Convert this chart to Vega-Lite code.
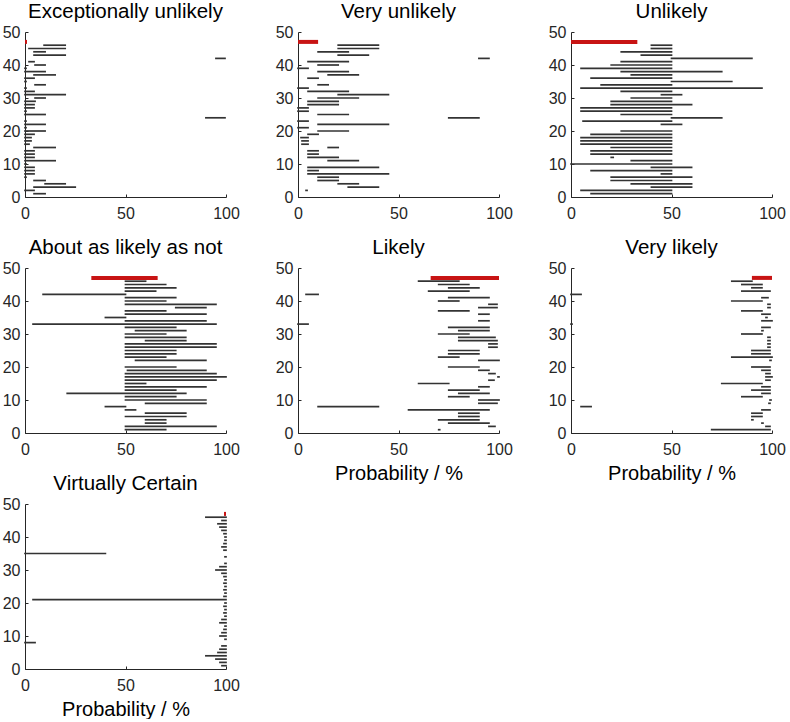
{
"$schema": "https://vega.github.io/schema/vega-lite/v6.json",
"background": "white",
"padding": {"left": 2, "top": 1, "right": 0, "bottom": 0},
"datasets": {
"p1": [
{"y":47,"lo":0,"hi":1,"src":"ipcc"},
{"y":46,"lo":9.5,"hi":20,"src":"resp"},{"y":45,"lo":2,"hi":20,"src":"resp"},{"y":44,"lo":4.5,"hi":10,"src":"resp"},{"y":43,"lo":4.5,"hi":20,"src":"resp"},{"y":42,"lo":95,"hi":99.5,"src":"resp"},{"y":41,"lo":2,"hi":4.5,"src":"resp"},{"y":40,"lo":5,"hi":10,"src":"resp"},{"y":39,"lo":0,"hi":0.5,"src":"resp"},{"y":38,"lo":0,"hi":10,"src":"resp"},{"y":37,"lo":4.5,"hi":15,"src":"resp"},{"y":36,"lo":0,"hi":4.5,"src":"resp"},{"y":35,"lo":0,"hi":0.5,"src":"resp"},{"y":34,"lo":5,"hi":10,"src":"resp"},{"y":33,"lo":0,"hi":0.5,"src":"resp"},{"y":32,"lo":0,"hi":4.5,"src":"resp"},{"y":31,"lo":0,"hi":20,"src":"resp"},{"y":30,"lo":5,"hi":10,"src":"resp"},{"y":29,"lo":0,"hi":5,"src":"resp"},{"y":28,"lo":0,"hi":4.5,"src":"resp"},{"y":27,"lo":0,"hi":4.5,"src":"resp"},{"y":26,"lo":0,"hi":0.5,"src":"resp"},{"y":25,"lo":0,"hi":10,"src":"resp"},{"y":24,"lo":90,"hi":99.5,"src":"resp"},{"y":23,"lo":0,"hi":0.5,"src":"resp"},{"y":22,"lo":0,"hi":10,"src":"resp"},{"y":21,"lo":0,"hi":0.5,"src":"resp"},{"y":20,"lo":0,"hi":10,"src":"resp"},{"y":19,"lo":0,"hi":4.5,"src":"resp"},{"y":18,"lo":0,"hi":3,"src":"resp"},{"y":17,"lo":0,"hi":3,"src":"resp"},{"y":16,"lo":0,"hi":2,"src":"resp"},{"y":15,"lo":4.5,"hi":15,"src":"resp"},{"y":14,"lo":0,"hi":4.5,"src":"resp"},{"y":13,"lo":0,"hi":4.5,"src":"resp"},{"y":12,"lo":0,"hi":4.5,"src":"resp"},{"y":11,"lo":0,"hi":15,"src":"resp"},{"y":10,"lo":0,"hi":0.5,"src":"resp"},{"y":9,"lo":0,"hi":4.5,"src":"resp"},{"y":8,"lo":0,"hi":4.5,"src":"resp"},{"y":7,"lo":0,"hi":4.5,"src":"resp"},{"y":6,"lo":0,"hi":0.5,"src":"resp"},{"y":5,"lo":4.5,"hi":10,"src":"resp"},{"y":4,"lo":10,"hi":20,"src":"resp"},{"y":3,"lo":4.5,"hi":25,"src":"resp"},{"y":2,"lo":0,"hi":4.5,"src":"resp"},{"y":1,"lo":4.5,"hi":10,"src":"resp"}
],
"p2": [
{"y":47,"lo":0,"hi":10,"src":"ipcc"},
{"y":46,"lo":20,"hi":40,"src":"resp"},{"y":45,"lo":20,"hi":40,"src":"resp"},{"y":44,"lo":10,"hi":25,"src":"resp"},{"y":43,"lo":20,"hi":35,"src":"resp"},{"y":42,"lo":90,"hi":95,"src":"resp"},{"y":41,"lo":5,"hi":25,"src":"resp"},{"y":40,"lo":10,"hi":20,"src":"resp"},{"y":39,"lo":0,"hi":5,"src":"resp"},{"y":38,"lo":10,"hi":25,"src":"resp"},{"y":37,"lo":15,"hi":30,"src":"resp"},{"y":36,"lo":5,"hi":10,"src":"resp"},{"y":34,"lo":10,"hi":15,"src":"resp"},{"y":33,"lo":0,"hi":5,"src":"resp"},{"y":32,"lo":5,"hi":25,"src":"resp"},{"y":31,"lo":20,"hi":45,"src":"resp"},{"y":30,"lo":10,"hi":30,"src":"resp"},{"y":29,"lo":5,"hi":20,"src":"resp"},{"y":28,"lo":5,"hi":20,"src":"resp"},{"y":27,"lo":0,"hi":5,"src":"resp"},{"y":26,"lo":0,"hi":5,"src":"resp"},{"y":25,"lo":10,"hi":25,"src":"resp"},{"y":24,"lo":75,"hi":90,"src":"resp"},{"y":23,"lo":0,"hi":5,"src":"resp"},{"y":22,"lo":10,"hi":45,"src":"resp"},{"y":21,"lo":0,"hi":5,"src":"resp"},{"y":20,"lo":10,"hi":25,"src":"resp"},{"y":19,"lo":5,"hi":10,"src":"resp"},{"y":18,"lo":1.5,"hi":5,"src":"resp"},{"y":17,"lo":2,"hi":5,"src":"resp"},{"y":16,"lo":2,"hi":5,"src":"resp"},{"y":15,"lo":15,"hi":20,"src":"resp"},{"y":14,"lo":5,"hi":10,"src":"resp"},{"y":13,"lo":5,"hi":10,"src":"resp"},{"y":12,"lo":5,"hi":20,"src":"resp"},{"y":11,"lo":15,"hi":30,"src":"resp"},{"y":9,"lo":5,"hi":40,"src":"resp"},{"y":8,"lo":5,"hi":10,"src":"resp"},{"y":7,"lo":5,"hi":45,"src":"resp"},{"y":6,"lo":10,"hi":20,"src":"resp"},{"y":5,"lo":10,"hi":20,"src":"resp"},{"y":4,"lo":20,"hi":30,"src":"resp"},{"y":3,"lo":25,"hi":40,"src":"resp"},{"y":2,"lo":4,"hi":4.5,"src":"resp"}
],
"p3": [
{"y":47,"lo":0,"hi":33,"src":"ipcc"},
{"y":46,"lo":40,"hi":50,"src":"resp"},{"y":45,"lo":40,"hi":50,"src":"resp"},{"y":44,"lo":25,"hi":50,"src":"resp"},{"y":43,"lo":35,"hi":50,"src":"resp"},{"y":42,"lo":50,"hi":90,"src":"resp"},{"y":41,"lo":25,"hi":50,"src":"resp"},{"y":40,"lo":20,"hi":50,"src":"resp"},{"y":39,"lo":5,"hi":50,"src":"resp"},{"y":38,"lo":25,"hi":75,"src":"resp"},{"y":37,"lo":30,"hi":50,"src":"resp"},{"y":36,"lo":10,"hi":50,"src":"resp"},{"y":35,"lo":50,"hi":80,"src":"resp"},{"y":34,"lo":15,"hi":50,"src":"resp"},{"y":33,"lo":5,"hi":95,"src":"resp"},{"y":32,"lo":25,"hi":50,"src":"resp"},{"y":31,"lo":45,"hi":55,"src":"resp"},{"y":30,"lo":30,"hi":50,"src":"resp"},{"y":29,"lo":20,"hi":50,"src":"resp"},{"y":28,"lo":20,"hi":60,"src":"resp"},{"y":27,"lo":5,"hi":50,"src":"resp"},{"y":26,"lo":5,"hi":50,"src":"resp"},{"y":25,"lo":25,"hi":50,"src":"resp"},{"y":24,"lo":50,"hi":75,"src":"resp"},{"y":23,"lo":6,"hi":50,"src":"resp"},{"y":22,"lo":45,"hi":55,"src":"resp"},{"y":20,"lo":25,"hi":50,"src":"resp"},{"y":19,"lo":10,"hi":50,"src":"resp"},{"y":18,"lo":5,"hi":50,"src":"resp"},{"y":17,"lo":5,"hi":50,"src":"resp"},{"y":16,"lo":5,"hi":50,"src":"resp"},{"y":15,"lo":20,"hi":50,"src":"resp"},{"y":14,"lo":10,"hi":50,"src":"resp"},{"y":13,"lo":10,"hi":50,"src":"resp"},{"y":12,"lo":20,"hi":21,"src":"resp"},{"y":11,"lo":30,"hi":50,"src":"resp"},{"y":10,"lo":0,"hi":50,"src":"resp"},{"y":9,"lo":40,"hi":60,"src":"resp"},{"y":8,"lo":10,"hi":50,"src":"resp"},{"y":7,"lo":45,"hi":50,"src":"resp"},{"y":6,"lo":20,"hi":60,"src":"resp"},{"y":5,"lo":20,"hi":50,"src":"resp"},{"y":4,"lo":30,"hi":60,"src":"resp"},{"y":3,"lo":40,"hi":60,"src":"resp"},{"y":2,"lo":5,"hi":50,"src":"resp"},{"y":1,"lo":10,"hi":50,"src":"resp"}
],
"p4": [
{"y":47,"lo":33,"hi":66,"src":"ipcc"},
{"y":46,"lo":50,"hi":60,"src":"resp"},{"y":45,"lo":50,"hi":70,"src":"resp"},{"y":44,"lo":50,"hi":75,"src":"resp"},{"y":43,"lo":50,"hi":65,"src":"resp"},{"y":42,"lo":9,"hi":50,"src":"resp"},{"y":41,"lo":50,"hi":75,"src":"resp"},{"y":40,"lo":50,"hi":70,"src":"resp"},{"y":39,"lo":50,"hi":95,"src":"resp"},{"y":38,"lo":75,"hi":90,"src":"resp"},{"y":37,"lo":50,"hi":70,"src":"resp"},{"y":36,"lo":50,"hi":90,"src":"resp"},{"y":35,"lo":40,"hi":50,"src":"resp"},{"y":34,"lo":50,"hi":90,"src":"resp"},{"y":33,"lo":4,"hi":95,"src":"resp"},{"y":32,"lo":50,"hi":75,"src":"resp"},{"y":31,"lo":55,"hi":80,"src":"resp"},{"y":30,"lo":50,"hi":70,"src":"resp"},{"y":29,"lo":50,"hi":80,"src":"resp"},{"y":28,"lo":60,"hi":80,"src":"resp"},{"y":27,"lo":50,"hi":95,"src":"resp"},{"y":26,"lo":50,"hi":95,"src":"resp"},{"y":25,"lo":50,"hi":75,"src":"resp"},{"y":24,"lo":50,"hi":75,"src":"resp"},{"y":23,"lo":50,"hi":70,"src":"resp"},{"y":22,"lo":55,"hi":90,"src":"resp"},{"y":20,"lo":50,"hi":75,"src":"resp"},{"y":19,"lo":51,"hi":90,"src":"resp"},{"y":18,"lo":50,"hi":95,"src":"resp"},{"y":17,"lo":50,"hi":100,"src":"resp"},{"y":16,"lo":50,"hi":95,"src":"resp"},{"y":15,"lo":50,"hi":60,"src":"resp"},{"y":14,"lo":50,"hi":90,"src":"resp"},{"y":13,"lo":50,"hi":75,"src":"resp"},{"y":12,"lo":21,"hi":80,"src":"resp"},{"y":11,"lo":50,"hi":75,"src":"resp"},{"y":10,"lo":50,"hi":90,"src":"resp"},{"y":9,"lo":60,"hi":90,"src":"resp"},{"y":8,"lo":40,"hi":50,"src":"resp"},{"y":7,"lo":50,"hi":55,"src":"resp"},{"y":6,"lo":60,"hi":80,"src":"resp"},{"y":5,"lo":50,"hi":80,"src":"resp"},{"y":4,"lo":60,"hi":70,"src":"resp"},{"y":3,"lo":60,"hi":70,"src":"resp"},{"y":2,"lo":50,"hi":95,"src":"resp"},{"y":1,"lo":50,"hi":70,"src":"resp"}
],
"p5": [
{"y":47,"lo":66,"hi":100,"src":"ipcc"},
{"y":46,"lo":60,"hi":80,"src":"resp"},{"y":45,"lo":70,"hi":85,"src":"resp"},{"y":44,"lo":75,"hi":90,"src":"resp"},{"y":43,"lo":65,"hi":85,"src":"resp"},{"y":42,"lo":4,"hi":10,"src":"resp"},{"y":41,"lo":75,"hi":95,"src":"resp"},{"y":40,"lo":70,"hi":80,"src":"resp"},{"y":39,"lo":95,"hi":99,"src":"resp"},{"y":38,"lo":90,"hi":99,"src":"resp"},{"y":37,"lo":70,"hi":85,"src":"resp"},{"y":36,"lo":90,"hi":95,"src":"resp"},{"y":34,"lo":90,"hi":95,"src":"resp"},{"y":33,"lo":0,"hi":5,"src":"resp"},{"y":32,"lo":75,"hi":95,"src":"resp"},{"y":31,"lo":80,"hi":95,"src":"resp"},{"y":30,"lo":70,"hi":85,"src":"resp"},{"y":29,"lo":80,"hi":98,"src":"resp"},{"y":28,"lo":80,"hi":99,"src":"resp"},{"y":27,"lo":95,"hi":99,"src":"resp"},{"y":26,"lo":95,"hi":99,"src":"resp"},{"y":25,"lo":75,"hi":90,"src":"resp"},{"y":24,"lo":75,"hi":90,"src":"resp"},{"y":23,"lo":70,"hi":80,"src":"resp"},{"y":22,"lo":90,"hi":100,"src":"resp"},{"y":20,"lo":75,"hi":90,"src":"resp"},{"y":19,"lo":90,"hi":95,"src":"resp"},{"y":18,"lo":95,"hi":98,"src":"resp"},{"y":17,"lo":99.5,"hi":100,"src":"resp"},{"y":16,"lo":95,"hi":97.5,"src":"resp"},{"y":15,"lo":60,"hi":75,"src":"resp"},{"y":14,"lo":90,"hi":95,"src":"resp"},{"y":13,"lo":75,"hi":90,"src":"resp"},{"y":12,"lo":80,"hi":95,"src":"resp"},{"y":11,"lo":75,"hi":85,"src":"resp"},{"y":10,"lo":90,"hi":100,"src":"resp"},{"y":9,"lo":90,"hi":99,"src":"resp"},{"y":8,"lo":10,"hi":40,"src":"resp"},{"y":7,"lo":55,"hi":95,"src":"resp"},{"y":6,"lo":80,"hi":90,"src":"resp"},{"y":5,"lo":80,"hi":90,"src":"resp"},{"y":4,"lo":70,"hi":90,"src":"resp"},{"y":3,"lo":75,"hi":95,"src":"resp"},{"y":2,"lo":95,"hi":98,"src":"resp"},{"y":1,"lo":70,"hi":70.5,"src":"resp"}
],
"p6": [
{"y":47,"lo":90,"hi":100,"src":"ipcc"},
{"y":46,"lo":80,"hi":90,"src":"resp"},{"y":45,"lo":85,"hi":95,"src":"resp"},{"y":44,"lo":90,"hi":95,"src":"resp"},{"y":43,"lo":85,"hi":99,"src":"resp"},{"y":42,"lo":0,"hi":5,"src":"resp"},{"y":41,"lo":95,"hi":98,"src":"resp"},{"y":40,"lo":80,"hi":95,"src":"resp"},{"y":39,"lo":98,"hi":99,"src":"resp"},{"y":38,"lo":98,"hi":99,"src":"resp"},{"y":37,"lo":85,"hi":95,"src":"resp"},{"y":36,"lo":95,"hi":99,"src":"resp"},{"y":35,"lo":97,"hi":97.5,"src":"resp"},{"y":34,"lo":95,"hi":100,"src":"resp"},{"y":33,"lo":0,"hi":0.5,"src":"resp"},{"y":32,"lo":95,"hi":99,"src":"resp"},{"y":31,"lo":95,"hi":95.5,"src":"resp"},{"y":30,"lo":85,"hi":95,"src":"resp"},{"y":29,"lo":98,"hi":99,"src":"resp"},{"y":28,"lo":98,"hi":99,"src":"resp"},{"y":27,"lo":98,"hi":99,"src":"resp"},{"y":26,"lo":98,"hi":99,"src":"resp"},{"y":25,"lo":90,"hi":99,"src":"resp"},{"y":24,"lo":90,"hi":99,"src":"resp"},{"y":23,"lo":80,"hi":100,"src":"resp"},{"y":22,"lo":99,"hi":99.5,"src":"resp"},{"y":20,"lo":90,"hi":99,"src":"resp"},{"y":19,"lo":95,"hi":99,"src":"resp"},{"y":18,"lo":97,"hi":99,"src":"resp"},{"y":17,"lo":97,"hi":100,"src":"resp"},{"y":16,"lo":97,"hi":99,"src":"resp"},{"y":15,"lo":75,"hi":95,"src":"resp"},{"y":14,"lo":95,"hi":99,"src":"resp"},{"y":13,"lo":90,"hi":99,"src":"resp"},{"y":12,"lo":95,"hi":99,"src":"resp"},{"y":11,"lo":85,"hi":95,"src":"resp"},{"y":10,"lo":99,"hi":99.5,"src":"resp"},{"y":9,"lo":98.5,"hi":99,"src":"resp"},{"y":8,"lo":5,"hi":10,"src":"resp"},{"y":7,"lo":95,"hi":99,"src":"resp"},{"y":6,"lo":90,"hi":95,"src":"resp"},{"y":5,"lo":90,"hi":95,"src":"resp"},{"y":4,"lo":90,"hi":90.5,"src":"resp"},{"y":3,"lo":95,"hi":95.5,"src":"resp"},{"y":2,"lo":97,"hi":99,"src":"resp"},{"y":1,"lo":70,"hi":99,"src":"resp"}
],
"p7": [
{"y":47,"lo":99,"hi":100,"src":"ipcc"},
{"y":46,"lo":90,"hi":100,"src":"resp"},{"y":45,"lo":98,"hi":100,"src":"resp"},{"y":44,"lo":96,"hi":100,"src":"resp"},{"y":43,"lo":97,"hi":100,"src":"resp"},{"y":42,"lo":98,"hi":100,"src":"resp"},{"y":41,"lo":99,"hi":100,"src":"resp"},{"y":40,"lo":99.5,"hi":100,"src":"resp"},{"y":39,"lo":99.5,"hi":100,"src":"resp"},{"y":38,"lo":99,"hi":100,"src":"resp"},{"y":37,"lo":98,"hi":100,"src":"resp"},{"y":36,"lo":99,"hi":100,"src":"resp"},{"y":35,"lo":0,"hi":40,"src":"resp"},{"y":34,"lo":99.5,"hi":100,"src":"resp"},{"y":32,"lo":99.5,"hi":100,"src":"resp"},{"y":31,"lo":97,"hi":100,"src":"resp"},{"y":30,"lo":95,"hi":100,"src":"resp"},{"y":29,"lo":98,"hi":100,"src":"resp"},{"y":28,"lo":99,"hi":100,"src":"resp"},{"y":27,"lo":99.5,"hi":100,"src":"resp"},{"y":26,"lo":99,"hi":100,"src":"resp"},{"y":25,"lo":99.5,"hi":100,"src":"resp"},{"y":24,"lo":99,"hi":100,"src":"resp"},{"y":23,"lo":99.5,"hi":100,"src":"resp"},{"y":22,"lo":99,"hi":100,"src":"resp"},{"y":21,"lo":4,"hi":100,"src":"resp"},{"y":20,"lo":99.5,"hi":100,"src":"resp"},{"y":19,"lo":99,"hi":100,"src":"resp"},{"y":18,"lo":99.5,"hi":100,"src":"resp"},{"y":17,"lo":99,"hi":100,"src":"resp"},{"y":16,"lo":99.5,"hi":100,"src":"resp"},{"y":15,"lo":98,"hi":100,"src":"resp"},{"y":14,"lo":97,"hi":100,"src":"resp"},{"y":13,"lo":99.5,"hi":100,"src":"resp"},{"y":12,"lo":99,"hi":100,"src":"resp"},{"y":11,"lo":98,"hi":100,"src":"resp"},{"y":10,"lo":97,"hi":100,"src":"resp"},{"y":9,"lo":99.5,"hi":100,"src":"resp"},{"y":8,"lo":0,"hi":5,"src":"resp"},{"y":7,"lo":98,"hi":100,"src":"resp"},{"y":6,"lo":97,"hi":100,"src":"resp"},{"y":5,"lo":96,"hi":100,"src":"resp"},{"y":4,"lo":90,"hi":100,"src":"resp"},{"y":3,"lo":95,"hi":100,"src":"resp"},{"y":2,"lo":97,"hi":100,"src":"resp"},{"y":1,"lo":98,"hi":100,"src":"resp"}
]
},
"columns": 3,
"spacing": {"row": 71, "column": 72},
"bounds": "flush",
"concat": [
{"data": {"name": "p1"}, "width": 201, "height": 165, "title": "Exceptionally unlikely",
 "encoding": {"y": {"field": "y", "type": "quantitative", "scale": {"domain": [0, 50]}, "axis": {"values": [0,10,20,30,40,50], "title": null}},
              "x": {"field": "lo", "type": "quantitative", "scale": {"domain": [0, 100]}, "axis": {"values": [0,50,100], "title": null}},
              "x2": {"field": "hi"}},
 "layer": [
  {"transform": [{"filter": "datum.src == 'resp'"}], "mark": {"type": "rule", "color": "#333333", "strokeWidth": 1.7, "strokeCap": "square"}},
  {"transform": [{"filter": "datum.src == 'ipcc'"}], "mark": {"type": "rule", "color": "#c81414", "strokeWidth": 4}}
 ]},
{"data": {"name": "p2"}, "width": 201, "height": 165, "title": "Very unlikely",
 "encoding": {"y": {"field": "y", "type": "quantitative", "scale": {"domain": [0, 50]}, "axis": {"values": [0,10,20,30,40,50], "title": null}},
              "x": {"field": "lo", "type": "quantitative", "scale": {"domain": [0, 100]}, "axis": {"values": [0,50,100], "title": null}},
              "x2": {"field": "hi"}},
 "layer": [
  {"transform": [{"filter": "datum.src == 'resp'"}], "mark": {"type": "rule", "color": "#333333", "strokeWidth": 1.7, "strokeCap": "square"}},
  {"transform": [{"filter": "datum.src == 'ipcc'"}], "mark": {"type": "rule", "color": "#c81414", "strokeWidth": 4}}
 ]},
{"data": {"name": "p3"}, "width": 201, "height": 165, "title": "Unlikely",
 "encoding": {"y": {"field": "y", "type": "quantitative", "scale": {"domain": [0, 50]}, "axis": {"values": [0,10,20,30,40,50], "title": null}},
              "x": {"field": "lo", "type": "quantitative", "scale": {"domain": [0, 100]}, "axis": {"values": [0,50,100], "title": null}},
              "x2": {"field": "hi"}},
 "layer": [
  {"transform": [{"filter": "datum.src == 'resp'"}], "mark": {"type": "rule", "color": "#333333", "strokeWidth": 1.7, "strokeCap": "square"}},
  {"transform": [{"filter": "datum.src == 'ipcc'"}], "mark": {"type": "rule", "color": "#c81414", "strokeWidth": 4}}
 ]},
{"data": {"name": "p4"}, "width": 201, "height": 165, "title": "About as likely as not",
 "encoding": {"y": {"field": "y", "type": "quantitative", "scale": {"domain": [0, 50]}, "axis": {"values": [0,10,20,30,40,50], "title": null}},
              "x": {"field": "lo", "type": "quantitative", "scale": {"domain": [0, 100]}, "axis": {"values": [0,50,100], "title": null}},
              "x2": {"field": "hi"}},
 "layer": [
  {"transform": [{"filter": "datum.src == 'resp'"}], "mark": {"type": "rule", "color": "#333333", "strokeWidth": 1.7, "strokeCap": "square"}},
  {"transform": [{"filter": "datum.src == 'ipcc'"}], "mark": {"type": "rule", "color": "#c81414", "strokeWidth": 4}}
 ]},
{"data": {"name": "p5"}, "width": 201, "height": 165, "title": "Likely",
 "encoding": {"y": {"field": "y", "type": "quantitative", "scale": {"domain": [0, 50]}, "axis": {"values": [0,10,20,30,40,50], "title": null}},
              "x": {"field": "lo", "type": "quantitative", "scale": {"domain": [0, 100]}, "axis": {"values": [0,50,100], "title": "Probability / %"}},
              "x2": {"field": "hi"}},
 "layer": [
  {"transform": [{"filter": "datum.src == 'resp'"}], "mark": {"type": "rule", "color": "#333333", "strokeWidth": 1.7, "strokeCap": "square"}},
  {"transform": [{"filter": "datum.src == 'ipcc'"}], "mark": {"type": "rule", "color": "#c81414", "strokeWidth": 4}}
 ]},
{"data": {"name": "p6"}, "width": 201, "height": 165, "title": "Very likely",
 "encoding": {"y": {"field": "y", "type": "quantitative", "scale": {"domain": [0, 50]}, "axis": {"values": [0,10,20,30,40,50], "title": null}},
              "x": {"field": "lo", "type": "quantitative", "scale": {"domain": [0, 100]}, "axis": {"values": [0,50,100], "title": "Probability / %"}},
              "x2": {"field": "hi"}},
 "layer": [
  {"transform": [{"filter": "datum.src == 'resp'"}], "mark": {"type": "rule", "color": "#333333", "strokeWidth": 1.7, "strokeCap": "square"}},
  {"transform": [{"filter": "datum.src == 'ipcc'"}], "mark": {"type": "rule", "color": "#c81414", "strokeWidth": 4}}
 ]},
{"data": {"name": "p7"}, "width": 201, "height": 165, "title": "Virtually Certain",
 "encoding": {"y": {"field": "y", "type": "quantitative", "scale": {"domain": [0, 50]}, "axis": {"values": [0,10,20,30,40,50], "title": null}},
              "x": {"field": "lo", "type": "quantitative", "scale": {"domain": [0, 100]}, "axis": {"values": [0,50,100], "title": "Probability / %"}},
              "x2": {"field": "hi"}},
 "layer": [
  {"transform": [{"filter": "datum.src == 'resp'"}], "mark": {"type": "rule", "color": "#333333", "strokeWidth": 1.7, "strokeCap": "square"}},
  {"transform": [{"filter": "datum.src == 'ipcc'"}], "mark": {"type": "rule", "color": "#c81414", "strokeWidth": 4}}
 ]}
],
"config": {
  "view": {"stroke": null},
  "font": "Liberation Sans",
  "axis": {"domainColor": "#262626", "domainWidth": 1, "tickColor": "#262626", "tickSize": -3, "labelColor": "#262626", "labelFontSize": 16, "labelFont": "Liberation Sans", "labelFlush": false, "labelOverlap": false, "grid": false, "titleFontSize": 20, "titleFontWeight": "normal", "titleColor": "#000000", "titleFont": "Liberation Sans"},
  "axisX": {"labelPadding": 11, "titlePadding": 6},
  "axisY": {"labelPadding": 8},
  "title": {"fontSize": 20.5, "fontWeight": "normal", "color": "#000000", "font": "Liberation Sans", "frame": "group", "baseline": "alphabetic", "offset": 2}
}
}
